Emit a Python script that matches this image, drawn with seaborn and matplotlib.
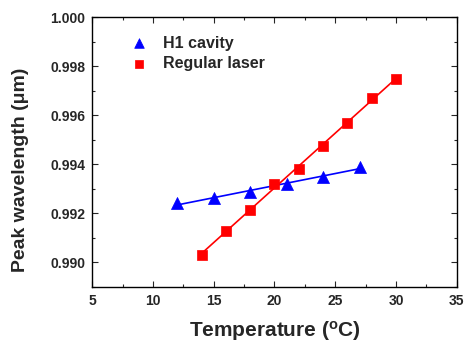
import numpy as np
import pandas as pd
import seaborn as sns
import matplotlib.pyplot as plt
from matplotlib.ticker import MultipleLocator

# Data
h1_temp = [12, 15, 18, 21, 24, 27]
h1_wl = [0.99240, 0.99263, 0.99287, 0.99321, 0.99348, 0.99389]

laser_temp = [14, 16, 18, 20, 22, 24, 26, 28, 30]
laser_wl = [0.99031, 0.99128, 0.99215, 0.99321, 0.99380, 0.99475, 0.99570, 0.99671, 0.99746]

sns.set_style("ticks")
plt.rcParams['font.family'] = ['Liberation Sans', 'DejaVu Sans']
plt.rcParams['font.weight'] = 'bold'
plt.rcParams['mathtext.fontset'] = 'custom'
plt.rcParams['mathtext.rm'] = 'Liberation Sans:bold'
plt.rcParams['mathtext.it'] = 'Liberation Sans:bold'
plt.rcParams['mathtext.bf'] = 'Liberation Sans:bold'

fig = plt.figure(figsize=(4.68, 3.49), dpi=100)
ax = fig.add_axes([0.197, 0.178, 0.779, 0.773])

h1 = pd.DataFrame({'temp': h1_temp, 'wl': h1_wl})
laser = pd.DataFrame({'temp': laser_temp, 'wl': laser_wl})

# Linear fits through each series
for df, col in [(h1, 'blue'), (laser, 'red')]:
    k, b = np.polyfit(df['temp'], df['wl'], 1)
    xs = np.array([df['temp'].min(), df['temp'].max()])
    ax.plot(xs, k * xs + b, color=col, lw=1.2, zorder=2)

sns.scatterplot(data=h1, x='temp', y='wl', marker='^', color='blue', s=75,
                edgecolor='blue', linewidth=0.5, label='H1 cavity', ax=ax, zorder=3)
sns.scatterplot(data=laser, x='temp', y='wl', marker='s', color='red', s=48,
                edgecolor='red', linewidth=0.5, label='Regular laser', ax=ax, zorder=3)

ax.set_xlim(5, 35)
ax.set_ylim(0.989, 1.000)
ax.xaxis.set_major_locator(MultipleLocator(5))
ax.xaxis.set_minor_locator(MultipleLocator(2.5))
ax.yaxis.set_minor_locator(MultipleLocator(0.001))
ax.set_yticks([0.990, 0.992, 0.994, 0.996, 0.998, 1.000])
ax.set_yticklabels(['0.990', '0.992', '0.994', '0.996', '0.998', '1.000'])

ax.tick_params(which='both', direction='in', top=True, right=True,
               labelsize=10, width=0.8, pad=5)
ax.tick_params(which='major', length=4)
ax.tick_params(which='minor', length=2)
for lab in ax.get_xticklabels() + ax.get_yticklabels():
    lab.set_fontweight('bold')
for sp in ax.spines.values():
    sp.set_linewidth(1.0)
    sp.set_color('black')

ax.set_xlabel('Temperature ($^{o}$C)', fontsize=15, fontweight='bold', labelpad=8)
ax.set_ylabel('Peak wavelength (μm)', fontsize=14, fontweight='bold')
ax.yaxis.set_label_coords(-0.172, 0.435)

leg = ax.legend(loc='upper left', bbox_to_anchor=(0.085, 0.955), borderaxespad=0,
                frameon=False, handletextpad=0.9, labelspacing=0.35,
                handlelength=1.2, markerscale=0.8,
                prop={'weight': 'bold', 'size': 11.5})

fig.savefig('out.png', dpi=100)
